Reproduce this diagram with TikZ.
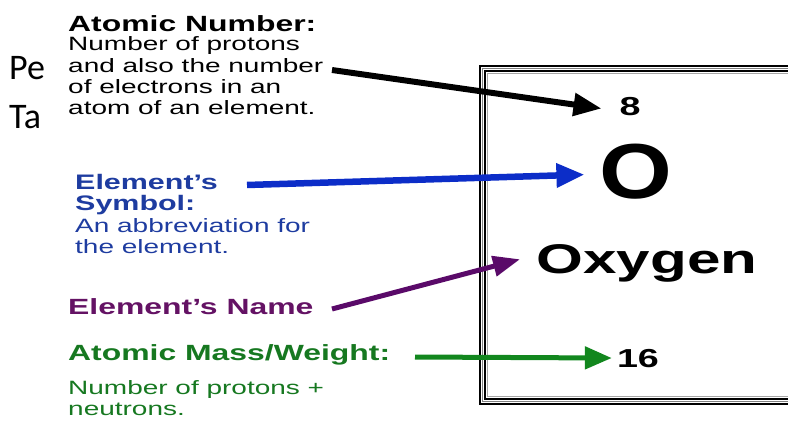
\documentclass[tikz,border=0pt]{standalone}
\usepackage{fontspec}
\setmainfont{Liberation Sans}[FakeStretch=1.45]
\newfontfamily\bigsymfont{Liberation Sans}[FakeStretch=1.2]
\newfontfamily\slidefont{Carlito}
\usetikzlibrary{positioning,arrows.meta}

\definecolor{symblue}{RGB}{30,60,160}
\definecolor{arrowblue}{RGB}{12,45,200}
\definecolor{namepurple}{RGB}{100,18,100}
\definecolor{arrowpurple}{RGB}{90,10,105}
\definecolor{massgreen}{RGB}{22,120,32}
\definecolor{arrowgreen}{RGB}{18,135,30}

\begin{document}
\begin{tikzpicture}[x=1pt, y=-1pt,
    head/.style={font=\bfseries\fontsize{22}{22}\selectfont, inner sep=0, anchor=north west, align=left},
    desc/.style={font=\fontsize{19.3}{21.3}\selectfont, inner sep=0, anchor=north west, align=left},
    cell/.style={font=\bfseries\fontsize{26}{26}\selectfont, inner sep=0, anchor=base},
    pointer/.style={line width=6pt, -{Triangle[length=28pt, width=22pt]}}]
  \useasboundingbox (0,0) rectangle (788,423);
  % element cell (runs off the right edge)
  \begin{scope}
    \clip (0,0) rectangle (788,423);
    \draw[line width=2pt] (480,66) rectangle (800,404);
    \draw[gray, line width=1.5pt] (482.5,68.5) rectangle (800,401.5);
    \draw[line width=1.2pt] (485,71) rectangle (800,399);
    \draw[gray!70, line width=1pt] (487.2,73.2) rectangle (800,396.8);
  \end{scope}
  % slide leftovers
  \node[font=\slidefont\fontsize{36}{36}\selectfont, inner sep=0, anchor=base west] (pe) at (9,79) {Pe};
  \node[font=\slidefont\fontsize{36}{36}\selectfont, inner sep=0, anchor=base west] (ta) at (9,128) {Ta};
  % labels
  \node[head] (numhead) at (68,15) {Atomic Number:};
  \node[desc, below right=5pt and 0pt of numhead.south west] (numtext)
    {Number of protons\\and also the number\\of electrons in an\\atom of an element.};
  \node[head, symblue, font=\bfseries\fontsize{21}{21}\selectfont] (symhead) at (75,174.5) {Element’s\\Symbol:};
  \node[desc, symblue, below right=2.6pt and 0pt of symhead.south west] (symtext)
    {An abbreviation for\\the element.};
  \node[head, namepurple] (namehead) at (68,298) {Element’s Name};
  \node[head, massgreen] (masshead) at (68,344) {Atomic Mass/Weight:};
  \node[desc, massgreen, below right=15.4pt and 0pt of masshead.south west] (masstext)
    {Number of protons +\\neutrons.};
  % cell contents
  \node[cell] (numval) at (630,115) {8};
  \node[cell, font=\bigsymfont\bfseries\fontsize{78}{78}\selectfont] (symval) at (636,198) {O};
  \node[cell, font=\bfseries\fontsize{41.5}{41.5}\selectfont] (nameval) at (647,273) {Oxygen};
  \node[cell] (massval) at (638,367) {16};
  % pointers
  \coordinate (numtail) at (332,70);
  \coordinate (symtail) at (247,185);
  \coordinate (nametail) at (332,309);
  \coordinate (masstail) at (415,357);
  \draw[pointer, shorten >=18pt] (numtail) -- ([yshift=-5pt]numval.west);
  \draw[pointer, arrowblue, line width=6.5pt, -{Triangle[length=28pt, width=23pt]}, shorten >=15pt] (symtail) -- ([yshift=-3pt]symval.west);
  \draw[pointer, arrowpurple, line width=5pt, -{Triangle[length=27pt, width=20pt]}, shorten >=17pt] (nametail) -- ([yshift=8pt]nameval.west);
  \draw[pointer, arrowgreen, line width=5pt, -{Triangle[length=27pt, width=22pt]}, shorten >=5pt] (masstail) -- (massval.west);
\end{tikzpicture}
\end{document}
